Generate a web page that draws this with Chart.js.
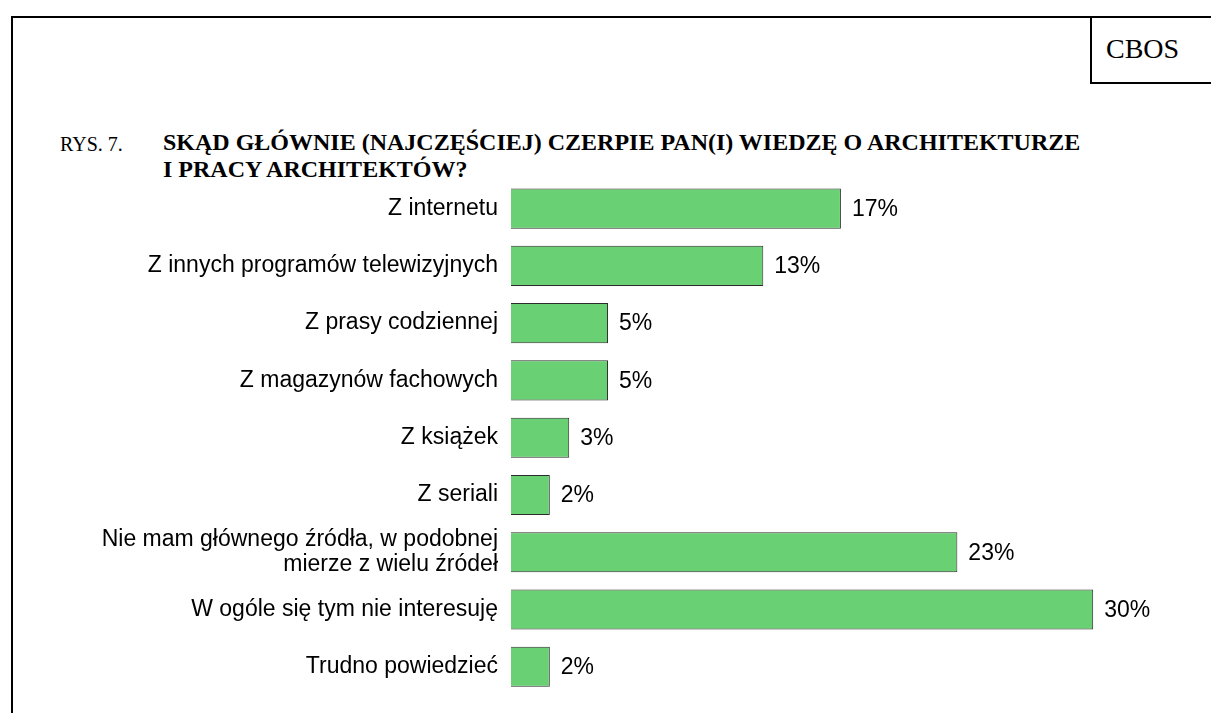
<!DOCTYPE html>
<html>
<head>
<meta charset="utf-8">
<script src="https://cdn.jsdelivr.net/npm/chart.js@4.4.0/dist/chart.umd.min.js"></script>
<style>
  html, body { margin: 0; padding: 0; background: #fff; }
  body { width: 1211px; height: 713px; position: relative; overflow: hidden; }
  .frame { position: absolute; left: 11px; top: 16px; width: 1300px; height: 800px;
           border-top: 2px solid #000; border-left: 2px solid #000; }
  .cbos { position: absolute; left: 1090px; top: 16px; width: 200px; height: 64px;
          border: 2px solid #000; font: 28px "Liberation Serif", "Times New Roman", serif; }
  .cbos span { position: absolute; left: 14px; top: 15px; }
  .title { position: absolute; top: 129px; font: 20px/27px "Liberation Serif", "Times New Roman", serif; color: #000; }
  .rys { left: 60px; top: 131px; }
  .q { left: 163px; font-size: 24px; font-weight: bold; }
  #chart { position: absolute; left: 0; top: 0; }
</style>
</head>
<body>
<div class="frame"></div>
<div class="cbos"><span>CBOS</span></div>
<div class="title rys">RYS. 7.</div>
<div class="title q">SKĄD GŁÓWNIE (NAJCZĘŚCIEJ) CZERPIE PAN(I) WIEDZĘ O ARCHITEKTURZE<br>I PRACY ARCHITEKTÓW?</div>
<canvas id="chart" width="1211" height="713"></canvas>
<script>
// categories and values
const categories = [
    'Z internetu',
    'Z innych programów telewizyjnych',
    'Z prasy codziennej',
    'Z magazynów fachowych',
    'Z książek',
    'Z seriali',
    ['Nie mam głównego źródła, w podobnej', 'mierze z wielu źródeł'],
    'W ogóle się tym nie interesuję',
    'Trudno powiedzieć'
];
const values = [17, 13, 5, 5, 3, 2, 23, 30, 2];

const labelFont = '23px "Liberation Sans", Arial, sans-serif';

// draws the "17%" labels right of each bar
const valueLabels = {
    id: 'valueLabels',
    afterDatasetsDraw(chart) {
        const ctx = chart.ctx;
        const meta = chart.getDatasetMeta(0);
        ctx.save();
        ctx.font = labelFont;
        ctx.fillStyle = '#000';
        ctx.textAlign = 'left';
        ctx.textBaseline = 'middle';
        meta.data.forEach((bar, i) => {
            ctx.fillText(values[i] + '%', bar.x + 11, bar.y + 1);
        });
        ctx.restore();
    }
};

new Chart(document.getElementById('chart'), {
    type: 'bar',
    data: {
        labels: categories,
        datasets: [{
            data: values,
            backgroundColor: '#69d174',
            borderColor: '#2b2b2b',
            borderWidth: 1,
            categoryPercentage: 1,
            barPercentage: 0.7
        }]
    },
    options: {
        indexAxis: 'y',
        responsive: false,
        animation: false,
        layout: { padding: { top: 180, bottom: 12, right: 79, left: 0 } },
        plugins: { legend: { display: false }, tooltip: { enabled: false } },
        scales: {
            x: {
                display: false,
                min: 0,
                max: 32
            },
            y: {
                grid: { display: false },
                border: { display: false },
                afterFit(axis) { axis.width = 511; },
                ticks: {
                    color: '#000',
                    padding: 5,
                    font: { family: '"Liberation Sans", Arial, sans-serif', size: 23, lineHeight: 1.1 }
                }
            }
        }
    },
    plugins: [valueLabels]
});
</script>
</body>
</html>
